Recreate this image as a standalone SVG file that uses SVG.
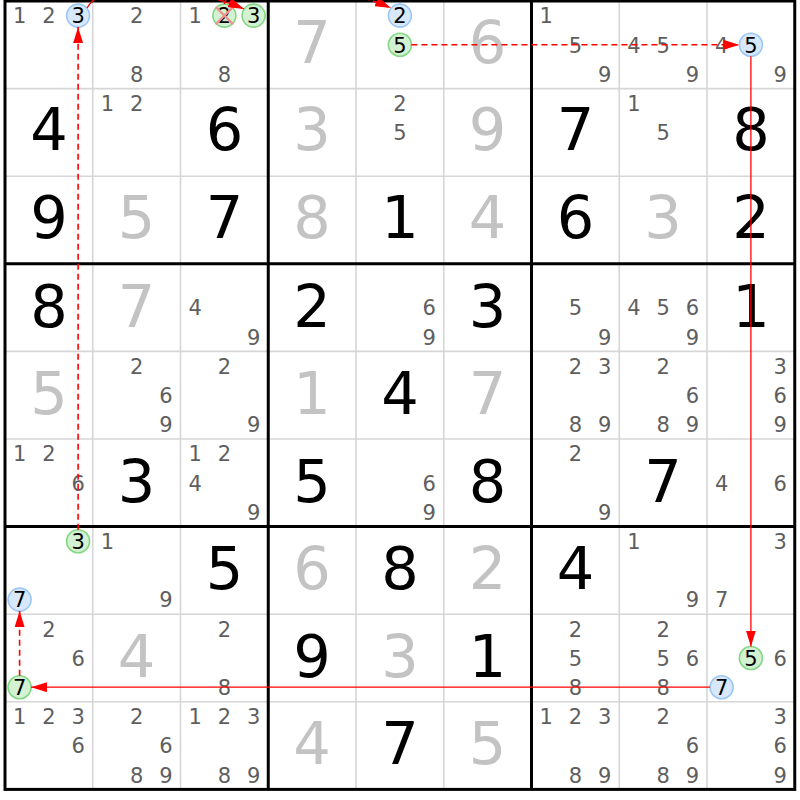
<svg xmlns="http://www.w3.org/2000/svg" width="800" height="800" viewBox="0 0 800 800">
<style>
text{font-family:"DejaVu Sans","Liberation Sans",sans-serif;text-anchor:middle}
.g{font-size:59px;fill:#000}
.s{font-size:59px;fill:#c3c3c3}
.c{font-size:21px;fill:#5e5e5e}
.h{font-size:21px;fill:#000}
.cb{fill:#d8e8fb;stroke:#9cc7f4;stroke-width:1.6}
.cg{fill:#d3f1d3;stroke:#84d784;stroke-width:1.6}
.x{stroke:#f29090;stroke-width:2.2;stroke-linecap:round}
.thin{stroke:#d6d6d6;stroke-width:1.6}
.thick{stroke:#000;stroke-width:3;fill:none}
.lk{fill:none;stroke:#f00;stroke-width:1.3}
.wk{fill:none;stroke:#f00;stroke-width:1.6;stroke-dasharray:6 4}
</style>
<defs>
<marker id="ah" viewBox="0 0 16 10" refX="16" refY="5" markerWidth="16" markerHeight="10" markerUnits="userSpaceOnUse" orient="auto">
<path d="M0,0 L16,5 L0,10 z" fill="#f00"/>
</marker>
</defs>
<rect width="800" height="800" fill="#fff"/>
<g id="grid">
<path class="thin" d="M92.75,1V789.4M180.5,1V789.4M356,1V789.4M443.75,1V789.4M619.25,1V789.4M707,1V789.4M5,88.6H794.75M5,176.2H794.75M5,351.4H794.75M5,439H794.75M5,614.2H794.75M5,701.8H794.75"/>
<path class="thick" d="M268.25,1V789.4M531.5,1V789.4M5,263.8H794.75M5,526.6H794.75"/>
<rect class="thick" x="5" y="1" width="789.75" height="788.4"/>
</g>
<g id="r1c1"><text class="c" x="19.6" y="23.3">1</text><text class="c" x="48.9" y="23.3">2</text><circle class="cb" cx="78.1" cy="15.6" r="11.5"/><text class="h" x="78.1" y="23.3">3</text></g>
<g id="r1c2"><text class="c" x="136.6" y="23.3">2</text><text class="c" x="136.6" y="81.7">8</text></g>
<g id="r1c3"><text class="c" x="195.1" y="23.3">1</text><circle class="cg" cx="224.4" cy="15.6" r="11.5"/><text class="h" x="224.4" y="23.3">2</text><path class="x" d="M216.4,7.6L232.4,23.6M232.4,7.6L216.4,23.6"/><circle class="cg" cx="253.6" cy="15.6" r="11.5"/><text class="h" x="253.6" y="23.3">3</text><text class="c" x="224.4" y="81.7">8</text></g>
<g id="r1c4"><text class="s" x="312.1" y="62.8">7</text></g>
<g id="r1c5"><circle class="cb" cx="399.9" cy="15.6" r="11.5"/><text class="h" x="399.9" y="23.3">2</text><circle class="cg" cx="399.9" cy="44.8" r="11.5"/><text class="h" x="399.9" y="52.5">5</text></g>
<g id="r1c6"><text class="s" x="487.6" y="62.8">6</text></g>
<g id="r1c7"><text class="c" x="546.1" y="23.3">1</text><text class="c" x="575.4" y="52.5">5</text><text class="c" x="604.6" y="81.7">9</text></g>
<g id="r1c8"><text class="c" x="633.9" y="52.5">4</text><text class="c" x="663.1" y="52.5">5</text><text class="c" x="692.4" y="81.7">9</text></g>
<g id="r1c9"><text class="c" x="721.6" y="52.5">4</text><circle class="cb" cx="750.9" cy="44.8" r="11.5"/><text class="h" x="750.9" y="52.5">5</text><text class="c" x="780.1" y="81.7">9</text></g>
<g id="r2c1"><text class="g" x="48.9" y="150.4">4</text></g>
<g id="r2c2"><text class="c" x="107.4" y="110.9">1</text><text class="c" x="136.6" y="110.9">2</text></g>
<g id="r2c3"><text class="g" x="224.4" y="150.4">6</text></g>
<g id="r2c4"><text class="s" x="312.1" y="150.4">3</text></g>
<g id="r2c5"><text class="c" x="399.9" y="110.9">2</text><text class="c" x="399.9" y="140.1">5</text></g>
<g id="r2c6"><text class="s" x="487.6" y="150.4">9</text></g>
<g id="r2c7"><text class="g" x="575.4" y="150.4">7</text></g>
<g id="r2c8"><text class="c" x="633.9" y="110.9">1</text><text class="c" x="663.1" y="140.1">5</text></g>
<g id="r2c9"><text class="g" x="750.9" y="150.4">8</text></g>
<g id="r3c1"><text class="g" x="48.9" y="238">9</text></g>
<g id="r3c2"><text class="s" x="136.6" y="238">5</text></g>
<g id="r3c3"><text class="g" x="224.4" y="238">7</text></g>
<g id="r3c4"><text class="s" x="312.1" y="238">8</text></g>
<g id="r3c5"><text class="g" x="399.9" y="238">1</text></g>
<g id="r3c6"><text class="s" x="487.6" y="238">4</text></g>
<g id="r3c7"><text class="g" x="575.4" y="238">6</text></g>
<g id="r3c8"><text class="s" x="663.1" y="238">3</text></g>
<g id="r3c9"><text class="g" x="750.9" y="238">2</text></g>
<g id="r4c1"><text class="g" x="48.9" y="326.5">8</text></g>
<g id="r4c2"><text class="s" x="136.6" y="326.5">7</text></g>
<g id="r4c3"><text class="c" x="195.1" y="315.3">4</text><text class="c" x="253.6" y="344.5">9</text></g>
<g id="r4c4"><text class="g" x="312.1" y="326.5">2</text></g>
<g id="r4c5"><text class="c" x="429.1" y="315.3">6</text><text class="c" x="429.1" y="344.5">9</text></g>
<g id="r4c6"><text class="g" x="487.6" y="326.5">3</text></g>
<g id="r4c7"><text class="c" x="575.4" y="315.3">5</text><text class="c" x="604.6" y="344.5">9</text></g>
<g id="r4c8"><text class="c" x="633.9" y="315.3">4</text><text class="c" x="663.1" y="315.3">5</text><text class="c" x="692.4" y="315.3">6</text><text class="c" x="692.4" y="344.5">9</text></g>
<g id="r4c9"><text class="g" x="750.9" y="326.5">1</text></g>
<g id="r5c1"><text class="s" x="48.9" y="413.5">5</text></g>
<g id="r5c2"><text class="c" x="136.6" y="373.7">2</text><text class="c" x="165.9" y="402.9">6</text><text class="c" x="165.9" y="432.1">9</text></g>
<g id="r5c3"><text class="c" x="224.4" y="373.7">2</text><text class="c" x="253.6" y="432.1">9</text></g>
<g id="r5c4"><text class="s" x="312.1" y="413.5">1</text></g>
<g id="r5c5"><text class="g" x="399.9" y="413.5">4</text></g>
<g id="r5c6"><text class="s" x="487.6" y="413.5">7</text></g>
<g id="r5c7"><text class="c" x="575.4" y="373.7">2</text><text class="c" x="604.6" y="373.7">3</text><text class="c" x="575.4" y="432.1">8</text><text class="c" x="604.6" y="432.1">9</text></g>
<g id="r5c8"><text class="c" x="663.1" y="373.7">2</text><text class="c" x="692.4" y="402.9">6</text><text class="c" x="663.1" y="432.1">8</text><text class="c" x="692.4" y="432.1">9</text></g>
<g id="r5c9"><text class="c" x="780.1" y="373.7">3</text><text class="c" x="780.1" y="402.9">6</text><text class="c" x="780.1" y="432.1">9</text></g>
<g id="r6c1"><text class="c" x="19.6" y="461.3">1</text><text class="c" x="48.9" y="461.3">2</text><text class="c" x="78.1" y="490.5">6</text></g>
<g id="r6c2"><text class="g" x="136.6" y="501.5">3</text></g>
<g id="r6c3"><text class="c" x="195.1" y="461.3">1</text><text class="c" x="224.4" y="461.3">2</text><text class="c" x="195.1" y="490.5">4</text><text class="c" x="253.6" y="519.7">9</text></g>
<g id="r6c4"><text class="g" x="312.1" y="501.5">5</text></g>
<g id="r6c5"><text class="c" x="429.1" y="490.5">6</text><text class="c" x="429.1" y="519.7">9</text></g>
<g id="r6c6"><text class="g" x="487.6" y="501.5">8</text></g>
<g id="r6c7"><text class="c" x="575.4" y="461.3">2</text><text class="c" x="604.6" y="519.7">9</text></g>
<g id="r6c8"><text class="g" x="663.1" y="501.5">7</text></g>
<g id="r6c9"><text class="c" x="721.6" y="490.5">4</text><text class="c" x="780.1" y="490.5">6</text></g>
<g id="r7c1"><circle class="cg" cx="78.1" cy="541.2" r="11.5"/><text class="h" x="78.1" y="548.9">3</text><circle class="cb" cx="19.6" cy="599.6" r="11.5"/><text class="h" x="19.6" y="607.3">7</text></g>
<g id="r7c2"><text class="c" x="107.4" y="548.9">1</text><text class="c" x="165.9" y="607.3">9</text></g>
<g id="r7c3"><text class="g" x="224.4" y="589">5</text></g>
<g id="r7c4"><text class="s" x="312.1" y="589">6</text></g>
<g id="r7c5"><text class="g" x="399.9" y="589">8</text></g>
<g id="r7c6"><text class="s" x="487.6" y="589">2</text></g>
<g id="r7c7"><text class="g" x="575.4" y="589">4</text></g>
<g id="r7c8"><text class="c" x="633.9" y="548.9">1</text><text class="c" x="692.4" y="607.3">9</text></g>
<g id="r7c9"><text class="c" x="780.1" y="548.9">3</text><text class="c" x="721.6" y="607.3">7</text></g>
<g id="r8c1"><text class="c" x="48.9" y="636.5">2</text><text class="c" x="78.1" y="665.7">6</text><circle class="cg" cx="19.6" cy="687.2" r="11.5"/><text class="h" x="19.6" y="694.9">7</text></g>
<g id="r8c2"><text class="s" x="136.6" y="676.5">4</text></g>
<g id="r8c3"><text class="c" x="224.4" y="636.5">2</text><text class="c" x="224.4" y="694.9">8</text></g>
<g id="r8c4"><text class="g" x="312.1" y="676.5">9</text></g>
<g id="r8c5"><text class="s" x="399.9" y="676.5">3</text></g>
<g id="r8c6"><text class="g" x="487.6" y="676.5">1</text></g>
<g id="r8c7"><text class="c" x="575.4" y="636.5">2</text><text class="c" x="575.4" y="665.7">5</text><text class="c" x="575.4" y="694.9">8</text></g>
<g id="r8c8"><text class="c" x="663.1" y="636.5">2</text><text class="c" x="663.1" y="665.7">5</text><text class="c" x="692.4" y="665.7">6</text><text class="c" x="663.1" y="694.9">8</text></g>
<g id="r8c9"><circle class="cg" cx="750.9" cy="658" r="11.5"/><text class="h" x="750.9" y="665.7">5</text><text class="c" x="780.1" y="665.7">6</text><circle class="cb" cx="721.6" cy="687.2" r="11.5"/><text class="h" x="721.6" y="694.9">7</text></g>
<g id="r9c1"><text class="c" x="19.6" y="724.1">1</text><text class="c" x="48.9" y="724.1">2</text><text class="c" x="78.1" y="724.1">3</text><text class="c" x="78.1" y="753.3">6</text></g>
<g id="r9c2"><text class="c" x="136.6" y="724.1">2</text><text class="c" x="165.9" y="753.3">6</text><text class="c" x="136.6" y="782.5">8</text><text class="c" x="165.9" y="782.5">9</text></g>
<g id="r9c3"><text class="c" x="195.1" y="724.1">1</text><text class="c" x="224.4" y="724.1">2</text><text class="c" x="253.6" y="724.1">3</text><text class="c" x="224.4" y="782.5">8</text><text class="c" x="253.6" y="782.5">9</text></g>
<g id="r9c4"><text class="s" x="312.1" y="764">4</text></g>
<g id="r9c5"><text class="g" x="399.9" y="764">7</text></g>
<g id="r9c6"><text class="s" x="487.6" y="764">5</text></g>
<g id="r9c7"><text class="c" x="546.1" y="724.1">1</text><text class="c" x="575.4" y="724.1">2</text><text class="c" x="604.6" y="724.1">3</text><text class="c" x="575.4" y="782.5">8</text><text class="c" x="604.6" y="782.5">9</text></g>
<g id="r9c8"><text class="c" x="663.1" y="724.1">2</text><text class="c" x="692.4" y="753.3">6</text><text class="c" x="663.1" y="782.5">8</text><text class="c" x="692.4" y="782.5">9</text></g>
<g id="r9c9"><text class="c" x="780.1" y="724.1">3</text><text class="c" x="780.1" y="753.3">6</text><text class="c" x="780.1" y="782.5">9</text></g>
<g id="connectors">
<path class="wk" d="M78.1,529.7V27.1" marker-end="url(#ah)"/>
<path class="lk" d="M87,8C110,-30 205,-8 244,9" marker-end="url(#ah)"/>
<path class="wk" d="M224.4,4C235,-40 350,-10 391,8" marker-end="url(#ah)"/>
<path class="wk" d="M411.4,44.8H739.4" marker-end="url(#ah)"/>
<path class="lk" d="M750.9,56.3V646.5" marker-end="url(#ah)"/>
<path class="lk" d="M710.1,687.2H31.1" marker-end="url(#ah)"/>
<path class="wk" d="M19.6,675.7V611.1" marker-end="url(#ah)"/>
</g>
</svg>
